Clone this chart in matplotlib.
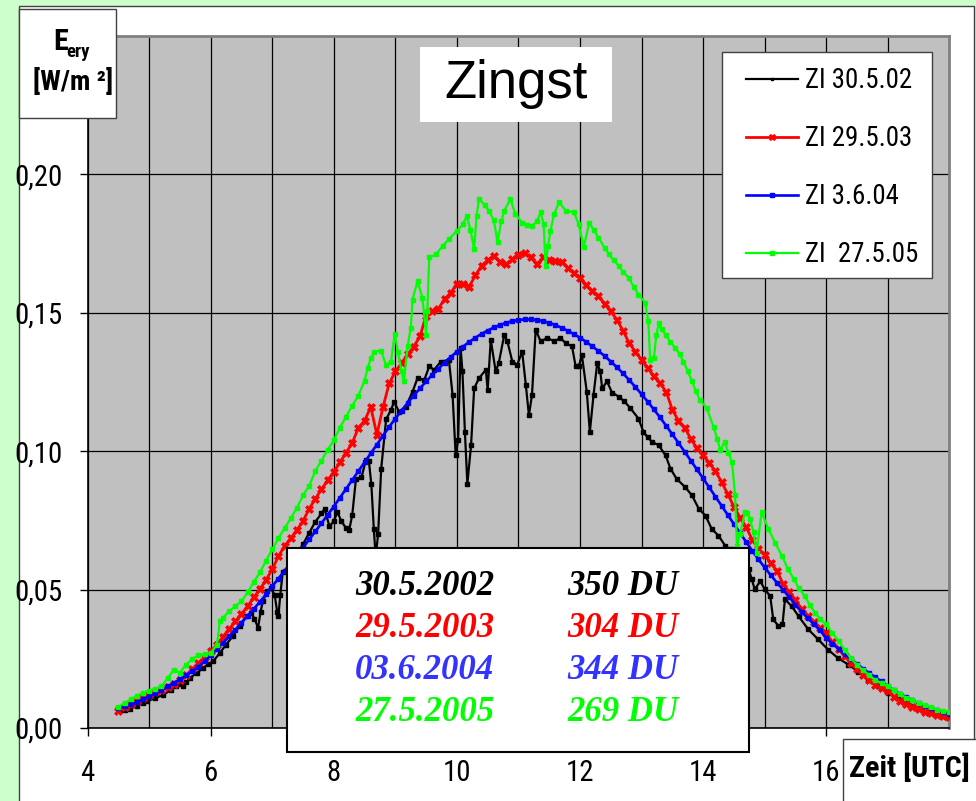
import numpy as np
import matplotlib
matplotlib.use('Agg')
import matplotlib.pyplot as plt
from matplotlib.patches import Rectangle
from matplotlib import font_manager as fm
from matplotlib.font_manager import FontProperties
from matplotlib.textpath import TextPath

# ---------------- data ----------------
grid_t = np.round(np.arange(4.5, 18.001, 0.1), 2)

blue_v = [.0072, .0078, .0085, .0093, .0103,
          .0114, .0125, .0137, .0150, .0163, .0176, .0190, .0205, .0220, .0242,
          .0262, .0285, .0308, .0331, .0355, .0380, .0405, .0430, .0456, .0483,
          .0512, .0540, .0568, .0596, .0624, .0652, .0681, .0710, .0740, .0770,
          .0800, .0832, .0864, .0896, .0928, .0960, .0992, .1024, .1056, .1088,
          .1118, .1146, .1174, .1201, .1227, .1252, .1276, .1298, .1320, .1340,
          .1360, .1378, .1395, .1410, .1424, .1436, .1447, .1456, .1464, .1470,
          .1474, .1476, .1476, .1474, .1470, .1464, .1456, .1446, .1435, .1423,
          .1410, .1395, .1379, .1362, .1344, .1324, .1303, .1281, .1257, .1232,
          .1206, .1179, .1151, .1122, .1092, .1061, .1030, .0998, .0966, .0934,
          .0902, .0869, .0836, .0803, .0770, .0737, .0705, .0672, .0640, .0609,
          .0580, .0552, .0525, .0499, .0474, .0445, .0420, .0397, .0375, .0353,
          .0325, .0305, .0286, .0267, .0249, .0231, .0214, .0198, .0183, .0168,
          .0150, .0136, .0123, .0111, .0100, .0090, .0081, .0073, .0065, .0058,
          .0050]

red_v = [.0062, .0077, .0087, .0099, .0110,
         .0120, .0130, .0138, .0148, .0160, .0173, .0190, .0213, .0235, .0256,
         .0277, .0300, .0330, .0358, .0385, .0412, .0440, .0472, .0502, .0535,
         .0574, .0620, .0658, .0685, .0715, .0748, .0792, .0828, .0862, .0895,
         .0925, .0960, .0995, .1030, .1085, .1110, .1160, .1060, .1160, .1245,
         .1288, .1318, .1350, .1378, .1415, .1490, .1505, .1515, .1550, .1572,
         .1605, .1605, .1595, .1635, .1670, .1690, .1705, .1685, .1675, .1693,
         .1710, .1715, .1700, .1675, .1700, .1692, .1687, .1685, .1662, .1645,
         .1625, .1600, .1580, .1560, .1532, .1505, .1475, .1435, .1390, .1360,
         .1330, .1300, .1270, .1245, .1215, .1150, .1110, .1085, .1045, .1010,
         .0985, .0958, .0928, .0889, .0845, .0800, .0760, .0725, .0680, .0648,
         .0625, .0595, .0568, .0520, .0492, .0463, .0430, .0405, .0382, .0362,
         .0344, .0310, .0285, .0259, .0236, .0214, .0193, .0172, .0155, .0143,
         .0132, .0113, .0098, .0086, .0076, .0067, .0059, .0053, .0048, .0044,
         .0041]

green_t = [4.5, 4.6, 4.7, 4.8, 4.9, 5.0, 5.1, 5.2, 5.3, 5.4, 5.5, 5.6, 5.7, 5.8, 5.9,
           6.0, 6.1, 6.15, 6.2, 6.3, 6.4, 6.5, 6.6, 6.7, 6.8, 6.9, 7.0, 7.1, 7.2, 7.3,
           7.4, 7.5, 7.6, 7.7, 7.8, 7.9, 8.0, 8.1, 8.2, 8.3, 8.4, 8.5, 8.55, 8.6, 8.66,
           8.77, 8.85, 8.93, 8.99, 9.04, 9.1, 9.14, 9.2, 9.25, 9.28, 9.36, 9.44, 9.5,
           9.52, 9.55, 9.66, 9.77, 9.87, 10.0, 10.1, 10.16, 10.22, 10.28, 10.32, 10.36,
           10.45, 10.52, 10.6, 10.66, 10.72, 10.77, 10.87, 10.95, 11.06, 11.14, 11.22,
           11.3, 11.36, 11.41, 11.44, 11.48, 11.52, 11.58, 11.66, 11.77, 11.9, 11.98,
           12.06, 12.15, 12.22, 12.3, 12.4, 12.47, 12.55, 12.63, 12.7, 12.79, 12.87,
           12.95, 13.06, 13.11, 13.14, 13.2, 13.24, 13.28, 13.33, 13.39, 13.47, 13.55,
           13.62, 13.68, 13.75, 13.82, 13.88, 13.95, 14.06, 14.17, 14.23, 14.28, 14.35,
           14.41, 14.47, 14.52, 14.55, 14.6, 14.68, 14.72, 14.76, 14.82, 14.87, 14.95,
           15.06, 15.17, 15.28, 15.38, 15.47, 15.55, 15.65, 15.73, 15.82, 15.9, 16.0,
           16.1, 16.2, 16.3, 16.4, 16.5, 16.6, 16.7, 16.8, 16.9, 17.0, 17.1, 17.2, 17.3,
           17.4, 17.5, 17.6, 17.7, 17.8, 17.9, 18.0]
green_v = [.0077, .0090, .0103, .0116, .0128, .0135, .0142, .0150, .0180, .0210, .0200,
           .0229, .0250, .0262, .0266, .0271, .0300, .0386, .0398, .0422, .0440, .0458,
           .0490, .0527, .0562, .0605, .0645, .0685, .0722, .0757, .0795, .0840, .0875,
           .0928, .0966, .1005, .1040, .1085, .1125, .1165, .1200, .1255, .1300, .1335,
           .1360, .1363, .1310, .1324, .1425, .1360, .1290, .1252, .1380, .1445, .1548,
           .1615, .1554, .1420, .1506, .1700, .1711, .1742, .1766, .1796, .1820, .1850,
           .1800, .1730, .1850, .1911, .1890, .1869, .1835, .1754, .1830, .1869, .1911,
           .1857, .1826, .1818, .1814, .1830, .1863, .1820, .1669, .1740, .1796, .1857,
           .1899, .1869, .1863, .1820, .1736, .1826, .1800, .1772, .1735, .1711, .1690,
           .1669, .1648, .1627, .1595, .1566, .1536, .1470, .1330, .1335, .1420, .1463,
           .1440, .1420, .1395, .1373, .1350, .1324, .1290, .1252, .1218, .1185, .1155,
           .1088, .1045, .1003, .1034, .0995, .0961, .0840, .0658, .0700, .0780, .0775,
           .0755, .0707, .0634, .0780, .0719, .0670, .0622, .0574, .0540, .0507, .0477,
           .0446, .0416, .0395, .0374, .0344, .0315, .0283, .0252, .0228, .0209, .0190,
           .0173, .0161, .0150, .0136, .0122, .0110, .0100, .0092, .0084, .0075, .0066,
           .0062, .0059]

black_t = [4.53, 4.6, 4.69, 4.8, 4.9, 4.96, 5.1, 5.23, 5.35, 5.44, 5.5, 5.55, 5.6, 5.66,
           5.77, 5.88, 5.96, 6.04, 6.15, 6.25, 6.36, 6.47, 6.58, 6.66, 6.71, 6.77, 6.81,
           6.85, 6.92, 6.98, 7.04, 7.08, 7.1, 7.13, 7.17, 7.25, 7.35, 7.42, 7.5, 7.6, 7.7,
           7.8, 7.85, 7.93, 8.0, 8.06, 8.12, 8.2, 8.25, 8.3, 8.36, 8.45, 8.52, 8.57, 8.61,
           8.65, 8.68, 8.72, 8.77, 8.85, 8.93, 8.98, 9.06, 9.17, 9.28, 9.36, 9.47, 9.55,
           9.63, 9.74, 9.87, 9.93, 9.98, 10.02, 10.06, 10.09, 10.13, 10.17, 10.23, 10.28,
           10.36, 10.47, 10.5, 10.55, 10.63, 10.68, 10.77, 10.82, 10.9, 10.98, 11.06,
           11.12, 11.17, 11.22, 11.28, 11.36, 11.47, 11.58, 11.68, 11.77, 11.87, 11.93,
           11.98, 12.03, 12.11, 12.16, 12.22, 12.28, 12.33, 12.36, 12.44, 12.52, 12.63,
           12.72, 12.82, 12.95, 13.03, 13.1, 13.17, 13.28, 13.39, 13.47, 13.57, 13.71,
           13.82, 13.93, 14.04, 14.14, 14.25, 14.36, 14.45, 14.55, 14.68, 14.74, 14.79,
           14.84, 14.93, 15.0, 15.09, 15.14, 15.22, 15.29, 15.33, 15.44, 15.55, 15.71,
           15.87, 16.03, 16.19, 16.36, 16.52, 16.68, 16.84, 17.0, 17.17, 17.33, 17.49,
           17.65, 17.81, 17.95]
black_v = [.0065, .0066, .0068, .0080, .0090, .0096, .0108, .0120, .0137, .0150, .0158,
           .0150, .0165, .0180, .0198, .0217, .0230, .0241, .0271, .0301, .0332, .0370,
           .0404, .0416, .0395, .0362, .0420, .0460, .0495, .0505, .0480, .0420, .0404,
           .0480, .0562, .0575, .0605, .0635, .0664, .0705, .0745, .0775, .0792, .0728,
           .0748, .0780, .0748, .0722, .0715, .0770, .0900, .0905, .0968, .0965, .0880,
           .0720, .0620, .0700, .0937, .1115, .1150, .1178, .1143, .1161, .1215, .1264,
           .1257, .1306, .1294, .1324, .1330, .1203, .0985, .1040, .1373, .1288, .1070,
           .0882, .1021, .1227, .1264, .1294, .1221, .1403, .1288, .1318, .1421, .1397,
           .1324, .1312, .1360, .1239, .1130, .1203, .1439, .1397, .1409, .1397, .1409,
           .1390, .1379, .1306, .1306, .1348, .1215, .1070, .1203, .1318, .1288, .1227,
           .1252, .1212, .1197, .1180, .1155, .1118, .1070, .1050, .1034, .1021, .0985,
           .0937, .0900, .0870, .0840, .0792, .0767, .0719, .0695, .0658, .0645, .0640,
           .0620, .0574, .0537, .0501, .0531, .0501, .0477, .0392, .0370, .0374, .0465,
           .0440, .0404, .0356, .0320, .0283, .0253, .0229, .0204, .0174, .0150, .0126,
           .0108, .0090, .0071, .0059, .0053, .0041]

series_labels = ['ZI 30.5.02', 'ZI 29.5.03', 'ZI 3.6.04', 'ZI  27.5.05']
xticks = [4, 6, 8, 10, 12, 14, 16]
xtick_labels = ['4', '6', '8', '10', '12', '14', '16']
yticks = [0.0, 0.05, 0.10, 0.15, 0.20]
ytick_labels = ['0,00', '0,05', '0,10', '0,15', '0,20']
box_dates = ['30.5.2002', '29.5.2003', '03.6.2004', '27.5.2005']
box_du = ['350 DU', '304 DU', '344 DU', '269 DU']
box_colors = ['#000000', '#FF0000', '#3333FF', '#00FF00']


# ---------------- narrow font selection ----------------
def pick_narrow():
    entries = fm.fontManager.ttflist
    names = {f.name for f in entries}
    for key in ['Liberation Sans Narrow', 'Arial Narrow', 'Roboto Condensed',
                'Open Sans Condensed', 'Noto Sans Condensed', 'DejaVu Sans Condensed']:
        if key in names:
            return key, 'normal'
    for fam in ['Liberation Sans', 'Roboto', 'Noto Sans', 'Open Sans', 'Inter',
                'Lato', 'DejaVu Sans']:
        for f in entries:
            if f.name == fam and 'condensed' in str(f.stretch) \
                    and 'extra' not in str(f.stretch) and 'ultra' not in str(f.stretch):
                return fam, f.stretch
    return 'Liberation Sans', 'normal'


NFAM, NSTRETCH = pick_narrow()
plt.rcParams['font.family'] = [NFAM, 'DejaVu Sans']
plt.rcParams['font.stretch'] = NSTRETCH


def ink_width(text, size, weight='normal'):
    fp = FontProperties(family=NFAM, stretch=NSTRETCH, weight=weight, size=size)
    return TextPath((0, 0), text, prop=fp).get_extents().width * 100 / 72


def fit(text, target_px, base, weight='normal'):
    w = ink_width(text, base, weight)
    return base * min(1.15, max(0.7, target_px / w))


TICK_SZ = fit('0,20', 45, 21)
LEG_SZ = fit('ZI 30.5.02', 105, 21)
ZEIT_SZ = fit('Zeit [UTC]', 118, 21, 'bold')
UNIT_SZ = fit('[W/m \u00b2]', 77, 21, 'bold')

# ---------------- figure ----------------
W, H = 976, 801
fig = plt.figure(figsize=(W / 100, H / 100), dpi=100, facecolor='#CCFFCC')


def fx(px):
    return px / W


def fy(py):
    return 1 - py / H


def frect(x0, y0, x1, y1, **kw):
    r = Rectangle((fx(x0), fy(y1)), fx(x1) - fx(x0), fy(y0) - fy(y1),
                  transform=fig.transFigure, **kw)
    fig.add_artist(r)
    return r


# white panel behind everything
frect(19, 6, 974, 805, facecolor='white', edgecolor='#404040', lw=1.0, zorder=-5)

ax = fig.add_axes([fx(87.6), fy(728), fx(949.3) - fx(87.6), fy(36) - fy(728)])
ax.set_facecolor('#C0C0C0')
ax.set_xlim(4, 18)
ax.set_ylim(0, 0.25)

ax.set_xticks(xticks)
ax.set_xticklabels(xtick_labels)
ax.set_xticks(np.arange(5, 18, 1)[::2], minor=True)
ax.set_yticks(yticks)
ax.set_yticklabels(ytick_labels)
ax.grid(True, which='both', color='black', lw=0.9)
ax.set_axisbelow(True)
ax.tick_params(axis='x', which='major', length=6, width=1, pad=16, labelsize=TICK_SZ)
ax.tick_params(axis='x', which='minor', length=0)
ax.tick_params(axis='y', which='major', length=6, width=1, pad=12, labelsize=TICK_SZ)

for s in ['left', 'bottom']:
    ax.spines[s].set_color('black')
    ax.spines[s].set_linewidth(1.2)
for s in ['top', 'right']:
    ax.spines[s].set_color('#808080')
    ax.spines[s].set_linewidth(2.0)

l1, = ax.plot(black_t, black_v, color='black', lw=1.6, marker='s', ms=2.6,
              label=series_labels[0], zorder=3)
l2, = ax.plot(grid_t, red_v, color='#FF0000', lw=2.0, marker='X', ms=5.5,
              mew=0.5, label=series_labels[1], zorder=4)
l3, = ax.plot(grid_t, blue_v, color='#0000FF', lw=1.9, marker='s', ms=3,
              label=series_labels[2], zorder=5)
l4, = ax.plot(green_t, green_v, color='#00FF00', lw=1.6, marker='s', ms=2.8,
              label=series_labels[3], zorder=6)

# legend frame drawn separately so its size matches the reference
leg_frame = Rectangle((fx(722), fy(278)), fx(932) - fx(722), fy(52) - fy(278),
                      transform=fig.transFigure, facecolor='white',
                      edgecolor='#404040', lw=1.0, zorder=7)
ax.add_artist(leg_frame)
leg_px = LEG_SZ * 100 / 72
leg = ax.legend(handles=[l1, l2, l3, l4], loc='upper left',
                bbox_to_anchor=(fx(746), fy(83 - 0.58 * leg_px)),
                bbox_transform=fig.transFigure,
                borderaxespad=0, borderpad=0, frameon=False,
                prop=FontProperties(family=NFAM, stretch=NSTRETCH, size=LEG_SZ),
                handlelength=52 / leg_px, handletextpad=7 / leg_px,
                labelspacing=1.15, markerscale=0.8)
leg.set_zorder(8)

# Zingst title box
frect(420, 47, 612, 122, facecolor='white', edgecolor='none', zorder=10)
fig.text(fx(516), fy(84), 'Zingst', family='Liberation Sans', fontstretch='normal',
         fontsize=38, ha='center', va='center', zorder=11)

# y-label box
frect(19, 9, 116, 118, facecolor='white', edgecolor='#404040', lw=1.0, zorder=10)
E_SZ = UNIT_SZ * 1.1
e_w = ink_width('E', E_SZ, 'bold')
fig.text(fx(53), fy(50), 'E', fontweight='bold', fontsize=E_SZ, ha='left',
         va='baseline', zorder=11)
fig.text(fx(53 + e_w + 1), fy(57), 'ery', fontweight='bold', fontsize=UNIT_SZ * 0.68,
         ha='left', va='baseline', zorder=11)
fig.text(fx(33), fy(90), '[W/m \u00b2]', fontweight='bold', fontsize=UNIT_SZ,
         ha='left', va='baseline', zorder=11)

# x-label box
frect(843, 739, 985, 810, facecolor='white', edgecolor='#404040', lw=1.0, zorder=10)
fig.text(fx(909), fy(768), 'Zeit [UTC]', fontweight='bold', fontsize=ZEIT_SZ,
         ha='center', va='center', zorder=11)

# ozone text box
frect(287, 548, 749, 752, facecolor='white', edgecolor='black', lw=1.5, zorder=10)
baselines = [595, 637, 679, 721]
for d, du, c, b in zip(box_dates, box_du, box_colors, baselines):
    fig.text(fx(355), fy(b), d, family='Liberation Serif', fontstretch='normal',
             fontweight='bold', fontstyle='italic', fontsize=25, color=c,
             ha='left', va='baseline', zorder=11)
    fig.text(fx(567), fy(b), du, family='Liberation Serif', fontstretch='normal',
             fontweight='bold', fontstyle='italic', fontsize=25, color=c,
             ha='left', va='baseline', zorder=11)

fig.savefig('out.png', dpi=100, facecolor=fig.get_facecolor())
